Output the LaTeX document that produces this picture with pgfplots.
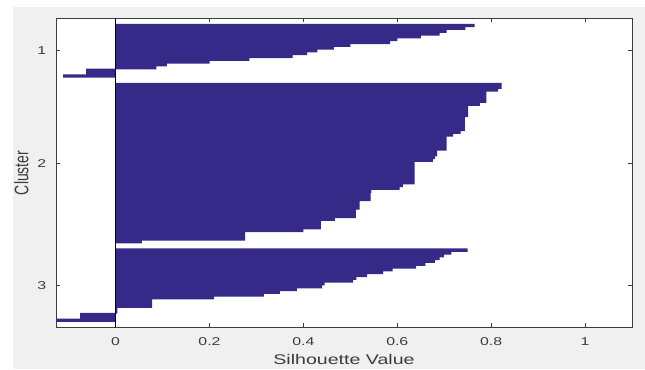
\documentclass[border=0pt]{standalone}
\usepackage{pgfplots}
\pgfplotsset{compat=1.18}
\usepackage{graphicx}
\usepackage{fontspec}
\setmainfont{Liberation Sans}
\definecolor{barc}{RGB}{53,42,135}
\definecolor{figgray}{RGB}{240,240,240}
\definecolor{axc}{RGB}{60,60,60}
\begin{document}
\begin{tikzpicture}
\path[use as bounding box, fill=white] (0,0) rectangle (483.75pt,276.75pt);
\fill[figgray] (9.5pt,0) rectangle (483.75pt,271.3pt);
\begin{axis}[
  at={(42pt,31.3pt)}, anchor=south west,
  scale only axis, width=432pt, height=231.6pt,
  xmin=-0.127, xmax=1.1, ymin=0.5, ymax=110.5,
  y dir=reverse,
  axis background/.style={fill=white},
  axis line style={axc, line width=0.5pt},
  tick style={axc, line width=0.5pt},
  tick align=inside, major tick length=3pt,
  xtick={0,0.2,0.4,0.6,0.8,1},
  xticklabels={0,0.2,0.4,0.6,0.8,1},
  ytick={12,52,95.5},
  yticklabels={1,2,3},
  tick label style={font=\fontsize{8.5}{10}\selectfont, text=axc},
  xticklabel style={anchor=base, yshift=-13.5pt, xscale=1.4},
  yticklabel style={anchor=east, inner sep=0pt, xshift=-7pt, xscale=1.4},
  xlabel={Silhouette Value},
  ylabel={Cluster},
  label style={font=\fontsize{10.5}{12}\selectfont, text=axc},
  xlabel style={at={(axis description cs:0.5,-0.1221)}, anchor=base, xscale=1.4},
  ylabel style={at={(axis description cs:-0.0481,0.5)}, anchor=base, yscale=1.4},
]
\addplot[xbar, bar shift=0pt, bar width=1.2, fill=barc, draw=none] coordinates {
(0.765,3) (0.745,4) (0.705,5) (0.69,6) (0.65,7) (0.60,8) (0.585,9) (0.50,10)
(0.465,11) (0.43,12) (0.408,13) (0.377,14) (0.285,15) (0.20,16) (0.109,17)
(0.087,18) (-0.063,19) (-0.063,20) (-0.112,21)
};
\addplot[xbar, bar shift=0pt, bar width=1.2, fill=barc, draw=none] coordinates {
(0.822,24) (0.822,25) (0.815,26) (0.79,27) (0.79,28) (0.79,29) (0.79,30) (0.776,31)
(0.751,32) (0.751,33) (0.751,34) (0.751,35) (0.744,36) (0.744,37) (0.744,38) (0.744,39)
(0.744,40) (0.735,41) (0.719,42) (0.705,43) (0.705,44) (0.705,45) (0.705,46) (0.705,47)
(0.685,48) (0.685,49) (0.68,50) (0.676,51) (0.637,52) (0.637,53) (0.637,54) (0.637,55)
(0.637,56) (0.637,57) (0.637,58) (0.637,59) (0.612,60) (0.605,61) (0.545,62) (0.543,63)
(0.543,64) (0.543,65) (0.52,66) (0.52,67) (0.52,68) (0.512,69) (0.512,70) (0.512,71)
(0.467,72) (0.437,73) (0.437,74) (0.437,75) (0.40,76) (0.276,77) (0.276,78) (0.276,79)
(0.056,80)
};
\addplot[xbar, bar shift=0pt, bar width=1.2, fill=barc, draw=none] coordinates {
(0.75,83) (0.715,84) (0.70,85) (0.69,86) (0.68,87) (0.66,88) (0.64,89) (0.59,90)
(0.57,91) (0.536,92) (0.513,93) (0.506,94) (0.445,95) (0.44,96) (0.386,97) (0.35,98)
(0.316,99) (0.21,100) (0.078,101) (0.078,102) (0.078,103) (0.004,104) (0.004,105)
(-0.0755,106) (-0.0755,107) (-0.127,108)
};
\addplot[black, line width=0.6pt] coordinates {(0,0.5) (0,110.5)};
\end{axis}
\end{tikzpicture}
\end{document}
